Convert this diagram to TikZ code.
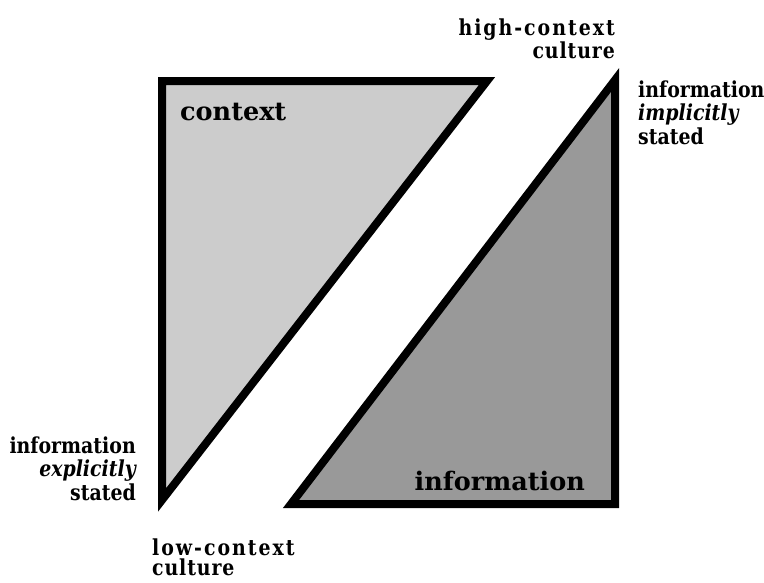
\documentclass[tikz,border=0pt]{standalone}
\usepackage{fontspec}
\setmainfont{DejaVu Serif}
\newfontfamily\labfont[FakeStretch=0.86]{DejaVu Serif}
\begin{document}
\begin{tikzpicture}[x=1pt,y=-1pt,
  tri/.style={draw=black,line width=8pt,line join=miter},
  side/.style={inner sep=0pt,font=\labfont\bfseries\fontsize{22}{23.5}\selectfont},
  big/.style={inner sep=0pt,font=\bfseries\fontsize{25.5}{28}\selectfont}]
\useasboundingbox[fill=white] (0,0) rectangle (764,582);
% left triangle (context)
\coordinate (ctl) at (162,81);
\coordinate (ctr) at (487,81);
\coordinate (cb) at (162,500);
\draw[tri,fill={rgb,255:red,204;green,204;blue,204}] (ctl) -- (ctr) -- (cb) -- cycle;
% right triangle (information)
\coordinate (it) at (615,80);
\coordinate (ibr) at (615,504);
\coordinate (ibl) at (291,504);
\draw[tri,fill={rgb,255:red,153;green,153;blue,153}] (it) -- (ibr) -- (ibl) -- cycle;
% labels
\node[big,anchor=base west] (ctx) at (180,120) {context};
\node[big,anchor=base east] (inf) at (585,490) {information};
\node[side,anchor=north east,align=right] (high) at (615,18.5) {\addfontfeature{LetterSpace=9}high-context\\\addfontfeature{LetterSpace=4}culture};
\node[side,anchor=north west,align=left] (impl) at (638,80.5) {information\\{\itshape implicitly}\\stated};
\node[side,anchor=north east,align=right] (expl) at (136,436.5) {information\\{\itshape explicitly}\\stated};
\node[side,anchor=north west,align=left,font=\labfont\bfseries\fontsize{22}{20}\selectfont] (low) at (152,538.3) {\addfontfeature{LetterSpace=9}low-context\\\addfontfeature{LetterSpace=4}culture};
\end{tikzpicture}
\end{document}
